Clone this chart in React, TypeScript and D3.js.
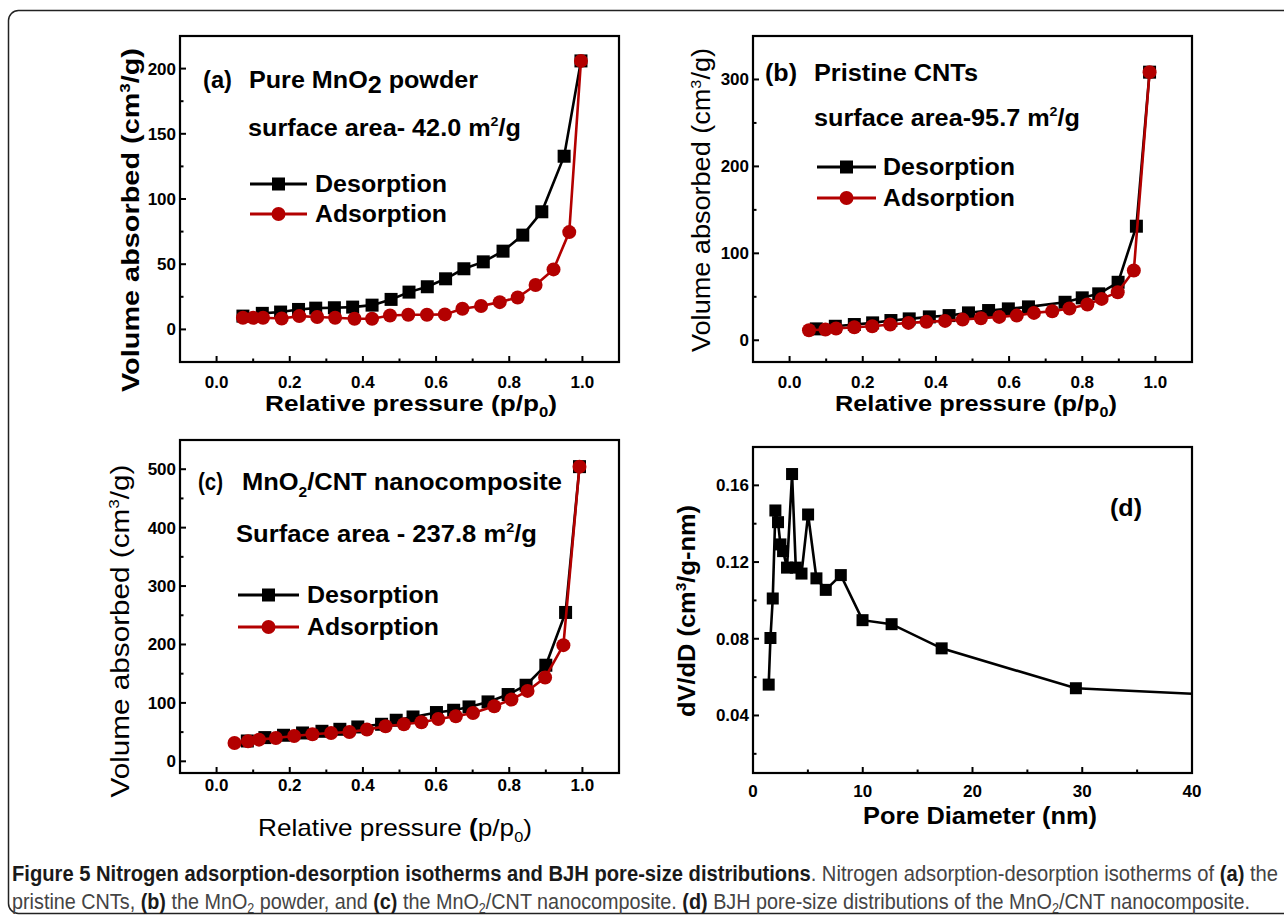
import React from 'react';
import * as d3 from 'd3';

// ---- panel (a): pure MnO2 powder ----
const aDesP = [0.072, 0.125, 0.175, 0.224, 0.271, 0.322, 0.372, 0.425, 0.477, 0.526, 0.576, 0.626, 0.676, 0.729, 0.783, 0.837, 0.889, 0.95, 0.996];
const aDesV = [10.2, 12.3, 13.3, 15.3, 16.3, 16.6, 17.1, 18.6, 23, 28.6, 32.7, 38.8, 46.5, 51.8, 60, 72.3, 90.2, 132.8, 205.9];
const aAdsP = [0.072, 0.1, 0.127, 0.178, 0.226, 0.275, 0.324, 0.377, 0.425, 0.474, 0.524, 0.575, 0.624, 0.672, 0.723, 0.774, 0.823, 0.872, 0.921, 0.964, 0.996];
const aAdsV = [8.9, 8.9, 8.9, 8.4, 10.2, 9.5, 8.9, 8.2, 8.2, 10.7, 11.2, 11.2, 11.5, 15.8, 17.9, 20.9, 24.5, 34, 46, 74.6, 205.9];

// ---- panel (b): pristine CNTs ----
const bDesP = [0.073, 0.125, 0.177, 0.227, 0.277, 0.327, 0.382, 0.436, 0.489, 0.544, 0.598, 0.653, 0.753, 0.8, 0.845, 0.898, 0.948, 0.984];
const bDesV = [13.1, 16.1, 18.1, 20, 22.7, 24.6, 26.9, 28.4, 31.5, 34.2, 36.1, 38.4, 43.7, 48.8, 53.4, 66.7, 131.2, 308.4];
const bAdsP = [0.053, 0.098, 0.127, 0.177, 0.226, 0.275, 0.325, 0.374, 0.425, 0.473, 0.523, 0.573, 0.621, 0.668, 0.718, 0.765, 0.814, 0.853, 0.897, 0.941, 0.984];
const bAdsV = [11.5, 12.3, 13.5, 15, 16.1, 18.1, 20, 21.2, 22.3, 23.8, 25.3, 26.9, 28.4, 31.5, 33.4, 36.5, 41.1, 47.6, 55.2, 80.2, 308.4];

// ---- panel (c): MnO2/CNT nanocomposite ----
const cDesP = [0.084, 0.132, 0.183, 0.235, 0.288, 0.337, 0.386, 0.451, 0.491, 0.537, 0.601, 0.648, 0.69, 0.742, 0.797, 0.846, 0.9, 0.954, 0.992];
const cDesV = [34.8, 40.6, 44.6, 48.5, 51.4, 54.8, 58.8, 63.4, 70.3, 75.9, 83.5, 87.4, 93.1, 101.7, 114.3, 130.2, 164.5, 254.8, 504.4];
const cAdsP = [0.049, 0.086, 0.116, 0.162, 0.212, 0.262, 0.313, 0.363, 0.411, 0.462, 0.512, 0.56, 0.606, 0.654, 0.701, 0.759, 0.806, 0.85, 0.898, 0.948, 0.992];
const cAdsV = [31.4, 34.3, 37.1, 40, 43.4, 46.3, 48.5, 50.3, 54.3, 60, 63.4, 66.8, 72.5, 77.1, 82.8, 94.3, 105.7, 120.5, 143.4, 198.8, 504.4];

// ---- panel (d): BJH pore size distribution ----
const dDiam = [1.43, 1.59, 1.8, 2.04, 2.28, 2.5, 2.74, 3.1, 3.56, 3.9, 4.42, 5.02, 5.78, 6.63, 8.0, 9.98, 12.63, 17.19, 29.42, 50];
const dDvdd = [0.0561, 0.0804, 0.101, 0.1469, 0.1408, 0.1292, 0.1257, 0.1171, 0.1659, 0.1171, 0.114, 0.1448, 0.1115, 0.1055, 0.1132, 0.0897, 0.0876, 0.075, 0.0542, 0.0486];

// tick values
const isoXTicks = [0, 0.2, 0.4, 0.6, 0.8, 1.0];
const isoXMinor = [0.1, 0.3, 0.5, 0.7, 0.9];
const aYTicks = [0, 50, 100, 150, 200];
const aYMinor = [25, 75, 125, 175];
const bYTicks = [0, 100, 200, 300];
const bYMinor = [50, 150, 250];
const cYTicks = [0, 100, 200, 300, 400, 500];
const cYMinor = [50, 150, 250, 350, 450];
const dXTicks = [0, 10, 20, 30, 40];
const dXMinor = [5, 15, 25, 35];
const dYTicks = [0.04, 0.08, 0.12, 0.16];
const dYMinor = [0.02, 0.06, 0.1, 0.14];

const FONT = "'Liberation Sans', Arial, Helvetica, sans-serif";
const RED = '#b30000';

type Frame = { l: number; r: number; t: number; b: number };

function Axes({ f, x, y, xTicks, xMinor, yTicks, yMinor, xFmt, yFmt, xLabY }: any) {
  return (
    <g>
      <rect x={f.l} y={f.t} width={f.r - f.l} height={f.b - f.t} fill="none" stroke="#000" strokeWidth={2.2} />
      {xTicks.map((v: number) => (
        <g key={'xt' + v}>
          <line x1={x(v)} x2={x(v)} y1={f.b} y2={f.b - 6} stroke="#000" strokeWidth={2} />
          <text x={x(v)} y={xLabY} textAnchor="middle" fontSize={17} fontWeight="bold" fontFamily={FONT}>{xFmt(v)}</text>
        </g>
      ))}
      {xMinor.map((v: number) => (
        <line key={'xm' + v} x1={x(v)} x2={x(v)} y1={f.b} y2={f.b - 3.5} stroke="#000" strokeWidth={2} />
      ))}
      {yTicks.map((v: number) => (
        <g key={'yt' + v}>
          <line x1={f.l} x2={f.l + 6} y1={y(v)} y2={y(v)} stroke="#000" strokeWidth={2} />
          <text x={f.l - 4} y={y(v) + 6} textAnchor="end" fontSize={17} fontWeight="bold" fontFamily={FONT}>{yFmt(v)}</text>
        </g>
      ))}
      {yMinor.map((v: number) => (
        <line key={'ym' + v} x1={f.l} x2={f.l + 3.5} y1={y(v)} y2={y(v)} stroke="#000" strokeWidth={2} />
      ))}
    </g>
  );
}

function Legend({ x1, x2, y1, y2, tx, len }: any) {
  const mid = (x1 + x2) / 2;
  return (
    <g fontFamily={FONT} fontWeight="bold" fontSize={23}>
      <line x1={x1} x2={x2} y1={y1} y2={y1} stroke="#000" strokeWidth={2.8} />
      <rect x={mid - 6.5} y={y1 - 6.5} width={13} height={13} fill="#000" />
      <text x={tx} y={y1 + 8} textLength={len} lengthAdjust="spacingAndGlyphs">Desorption</text>
      <line x1={x1} x2={x2} y1={y2} y2={y2} stroke={RED} strokeWidth={2.8} />
      <circle cx={mid} cy={y2} r={7} fill={RED} />
      <text x={tx} y={y2 + 8} textLength={len} lengthAdjust="spacingAndGlyphs">Adsorption</text>
    </g>
  );
}

function IsoPanel({ f, yDom, yTicks, yMinor, desP, desV, adsP, adsV, xLabY, children }: any) {
  const x = d3.scaleLinear().domain([-0.1, 1.1]).range([f.l, f.r]);
  const y = d3.scaleLinear().domain(yDom).range([f.b, f.t]);
  const des = desP.map((p: number, i: number) => [x(p), y(desV[i])] as [number, number]);
  const ads = adsP.map((p: number, i: number) => [x(p), y(adsV[i])] as [number, number]);
  const path = d3.line();
  return (
    <g>
      <Axes f={f} x={x} y={y} xTicks={isoXTicks} xMinor={isoXMinor} yTicks={yTicks} yMinor={yMinor}
        xFmt={d3.format('.1f')} yFmt={d3.format('d')} xLabY={xLabY} />
      <path d={path(des) || ''} fill="none" stroke="#000" strokeWidth={2.6} />
      {des.map((d: [number, number], i: number) => (
        <rect key={'d' + i} x={d[0] - 6.5} y={d[1] - 6.5} width={13} height={13} fill="#000" />
      ))}
      <path d={path(ads) || ''} fill="none" stroke={RED} strokeWidth={2.6} />
      {ads.map((d: [number, number], i: number) => (
        <circle key={'a' + i} cx={d[0]} cy={d[1]} r={7} fill={RED} />
      ))}
      {children}
    </g>
  );
}

function PorePanel({ f }: { f: Frame }) {
  const x = d3.scaleLinear().domain([0, 40]).range([f.l, f.r]);
  const y = d3.scaleLinear().domain([0.01, 0.18]).range([f.b, f.t]);
  const pts = dDiam.map((v, i) => [x(v), y(dDvdd[i])] as [number, number]);
  const path = d3.line();
  return (
    <g>
      <defs>
        <clipPath id="dclip">
          <rect x={f.l} y={f.t} width={f.r - f.l} height={f.b - f.t} />
        </clipPath>
      </defs>
      <Axes f={f} x={x} y={y} xTicks={dXTicks} xMinor={dXMinor} yTicks={dYTicks} yMinor={dYMinor}
        xFmt={d3.format('d')} yFmt={d3.format('.2f')} xLabY={797} />
      <g clipPath="url(#dclip)">
        <path d={path(pts) || ''} fill="none" stroke="#000" strokeWidth={2.6} />
        {pts.map((d, i) => (
          <rect key={i} x={d[0] - 6} y={d[1] - 6} width={12} height={12} fill="#000" />
        ))}
      </g>
      <text x={1110} y={516} fontFamily={FONT} fontWeight="bold" fontSize={23} textLength={32} lengthAdjust="spacingAndGlyphs">(d)</text>
    </g>
  );
}

export default function App() {
  const fa: Frame = { l: 180, r: 619, t: 36, b: 362 };
  const fb: Frame = { l: 753, r: 1192, t: 36, b: 362 };
  const fc: Frame = { l: 180, r: 619, t: 440, b: 773 };
  const fd: Frame = { l: 753, r: 1192, t: 447, b: 773 };
  const adj = 'spacingAndGlyphs';
  const capScale = 0.9;
  return (
    <svg width={1284} height={921} style={{ position: 'absolute', left: 0, top: 0, background: '#fff' }}>
      <rect x={8.5} y={10.5} width={1300} height={903} rx={10} fill="none" stroke="#222" strokeWidth={1.5} />

      {/* (a) */}
      <IsoPanel f={fa} yDom={[-25, 225]} yTicks={aYTicks} yMinor={aYMinor}
        desP={aDesP} desV={aDesV} adsP={aAdsP} adsV={aAdsV} xLabY={388}>
        <g fontFamily={FONT} fontWeight="bold">
          <text x={203} y={88} fontSize={23} textLength={29} lengthAdjust={adj}>(a)</text>
          <text x={249} y={88} fontSize={23} textLength={229} lengthAdjust={adj}>
            Pure MnO<tspan dy={5}>2</tspan><tspan dy={-5}> powder</tspan>
          </text>
          <text x={248} y={136} fontSize={23} textLength={273} lengthAdjust={adj}>
            surface area- 42.0 m<tspan dy={-10} fontSize={13}>2</tspan><tspan dy={10}>/g</tspan>
          </text>
          <text x={411} y={411} fontSize={22} textAnchor="middle" textLength={292} lengthAdjust={adj}>
            Relative pressure (p/p<tspan dy={6} fontSize={14}>0</tspan><tspan dy={-6}>)</tspan>
          </text>
          <text transform="translate(139,220) rotate(-90)" fontSize={24} textAnchor="middle" textLength={344} lengthAdjust={adj}>
            Volume absorbed (cm<tspan dy={-9} fontSize={14}>3</tspan><tspan dy={9}>/g)</tspan>
          </text>
        </g>
        <Legend x1={250} x2={307} y1={184} y2={214} tx={315} len={132} />
      </IsoPanel>

      {/* (b) */}
      <IsoPanel f={fb} yDom={[-25, 350]} yTicks={bYTicks} yMinor={bYMinor}
        desP={bDesP} desV={bDesV} adsP={bAdsP} adsV={bAdsV} xLabY={388}>
        <g fontFamily={FONT} fontWeight="bold">
          <text x={765} y={81} fontSize={23} textLength={32} lengthAdjust={adj}>(b)</text>
          <text x={814} y={81} fontSize={23} textLength={164} lengthAdjust={adj}>Pristine CNTs</text>
          <text x={814} y={126} fontSize={23} textLength={266} lengthAdjust={adj}>
            surface area-95.7 m<tspan dy={-10} fontSize={13}>2</tspan><tspan dy={10}>/g</tspan>
          </text>
          <text x={976} y={411} fontSize={22} textAnchor="middle" textLength={282} lengthAdjust={adj}>
            Relative pressure (p/p<tspan dy={6} fontSize={14}>0</tspan><tspan dy={-6}>)</tspan>
          </text>
        </g>
        <text transform="translate(710,200) rotate(-90)" fontFamily={FONT} fontSize={25} textAnchor="middle" textLength={304} lengthAdjust={adj}>
          Volume absorbed (cm<tspan dy={-9} fontSize={15}>3</tspan><tspan dy={9}>/g)</tspan>
        </text>
        <Legend x1={817} x2={876} y1={167} y2={198} tx={883} len={132} />
      </IsoPanel>

      {/* (c) */}
      <IsoPanel f={fc} yDom={[-20, 550]} yTicks={cYTicks} yMinor={cYMinor}
        desP={cDesP} desV={cDesV} adsP={cAdsP} adsV={cAdsV} xLabY={791}>
        <g fontFamily={FONT} fontWeight="bold">
          <text x={198} y={490} fontSize={23} textLength={25} lengthAdjust={adj}>(c)</text>
          <text x={242} y={490} fontSize={23} textLength={320} lengthAdjust={adj}>
            MnO<tspan dy={7} fontSize={14}>2</tspan><tspan dy={-7}>/CNT nanocomposite</tspan>
          </text>
          <text x={236} y={542} fontSize={23} textLength={301} lengthAdjust={adj}>
            Surface area - 237.8 m<tspan dy={-10} fontSize={13}>2</tspan><tspan dy={10}>/g</tspan>
          </text>
        </g>
        <text x={395} y={836} fontFamily={FONT} fontSize={24} textAnchor="middle" textLength={274} lengthAdjust={adj}>
          Relative pressure <tspan fontWeight="bold">(</tspan>p/p<tspan dy={6} fontSize={15}>0</tspan><tspan dy={-6}>)</tspan>
        </text>
        <text transform="translate(129,631) rotate(-90)" fontFamily={FONT} fontSize={26} textAnchor="middle" textLength={333} lengthAdjust={adj}>
          Volume absorbed (cm<tspan dy={-10} fontSize={15}>3</tspan><tspan dy={10}>/g)</tspan>
        </text>
        <Legend x1={238} x2={299} y1={595} y2={627} tx={307} len={132} />
      </IsoPanel>

      {/* (d) */}
      <PorePanel f={fd} />
      <g fontFamily={FONT} fontWeight="bold">
        <text x={980} y={824} fontSize={23} textAnchor="middle" textLength={234} lengthAdjust={adj}>Pore Diameter (nm)</text>
        <text transform="translate(695,611) rotate(-90)" fontSize={23} textAnchor="middle" textLength={212} lengthAdjust={adj}>
          dV/dD (cm<tspan dy={-9} fontSize={14}>3</tspan><tspan dy={9}>/g-nm)</tspan>
        </text>
      </g>

      {/* caption, condensed horizontally */}
      <g fontFamily={FONT} fontSize={22} transform={`scale(${capScale},1)`}>
        <text x={12 / capScale} y={881} textLength={1266 / capScale} lengthAdjust={adj} fill="#444">
          <tspan fontWeight="bold" fill="#1a1a1a">Figure 5 Nitrogen adsorption-desorption isotherms and BJH pore-size distributions</tspan>
          . Nitrogen adsorption-desorption isotherms of <tspan fontWeight="bold" fill="#1a1a1a">(a)</tspan> the
        </text>
        <text x={12 / capScale} y={909} textLength={1238 / capScale} lengthAdjust={adj} fill="#444">
          pristine CNTs, <tspan fontWeight="bold" fill="#1a1a1a">(b)</tspan> the MnO<tspan dy={4} fontSize={14}>2</tspan><tspan dy={-4}> powder, and </tspan>
          <tspan fontWeight="bold" fill="#1a1a1a">(c)</tspan> the MnO<tspan dy={4} fontSize={14}>2</tspan><tspan dy={-4}>/CNT nanocomposite. </tspan>
          <tspan fontWeight="bold" fill="#1a1a1a">(d)</tspan> BJH pore-size distributions of the MnO<tspan dy={4} fontSize={14}>2</tspan><tspan dy={-4}>/CNT nanocomposite.</tspan>
        </text>
      </g>
    </svg>
  );
}
